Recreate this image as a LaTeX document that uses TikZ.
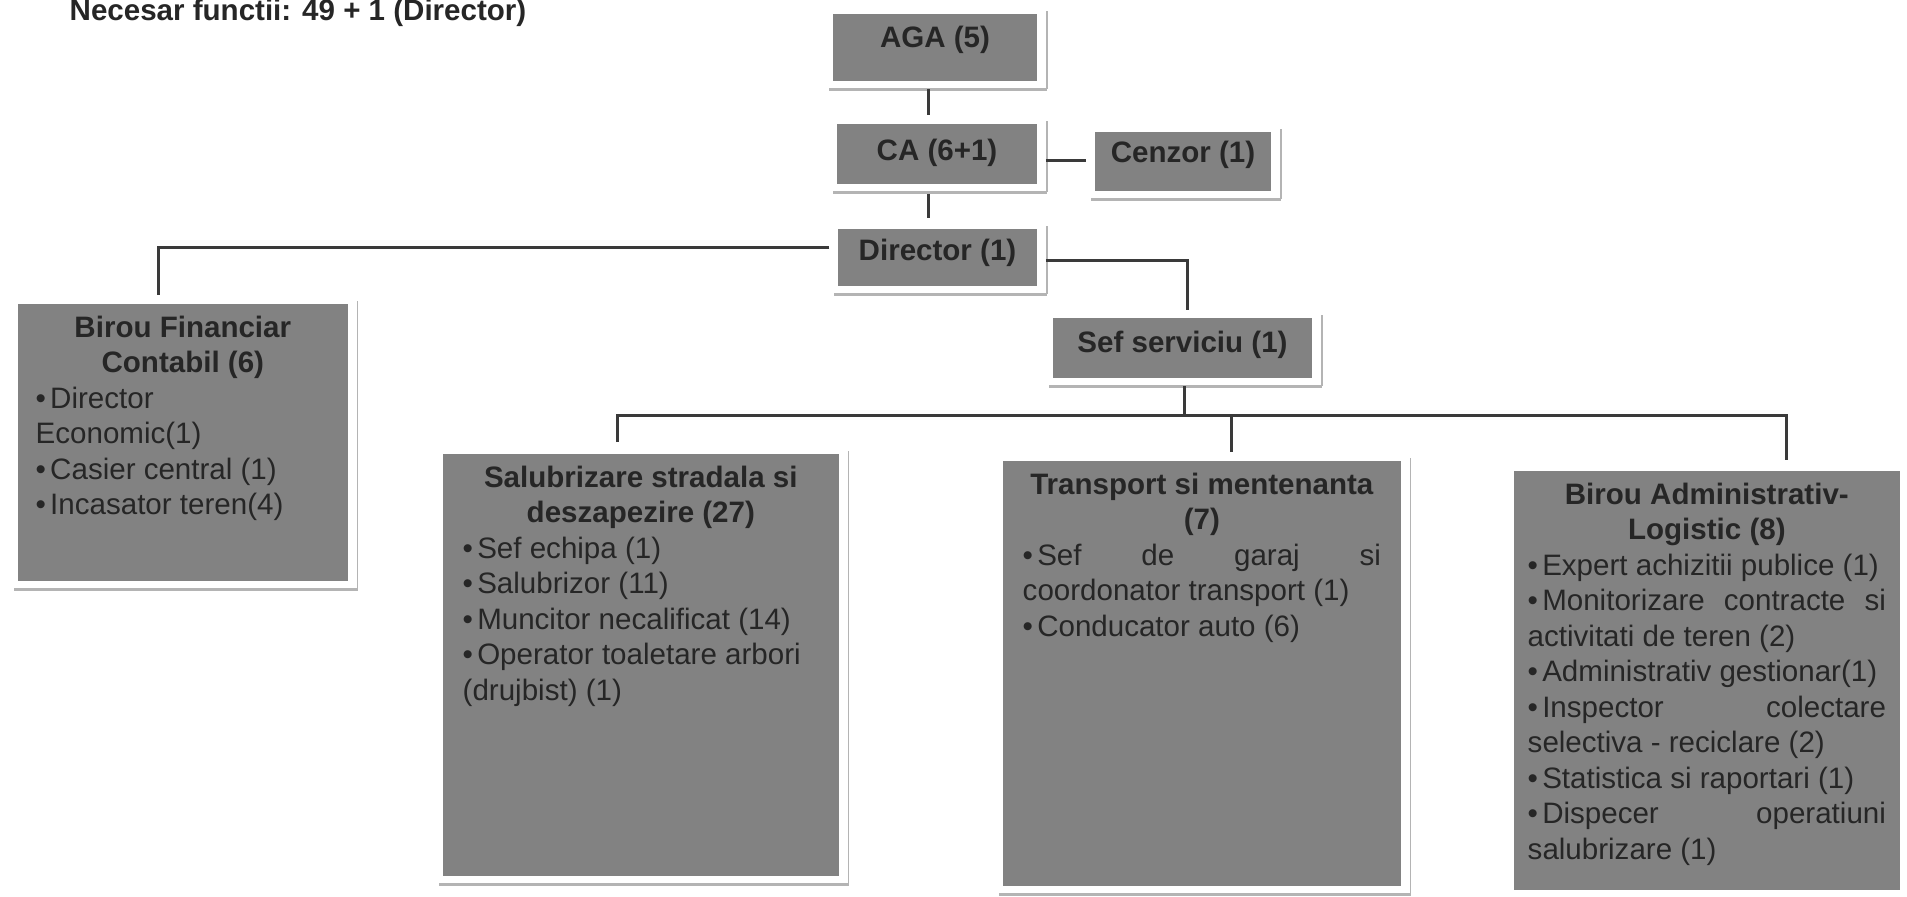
\documentclass[tikz,border=0pt]{standalone}
\usepackage{fontspec}
\setmainfont{Liberation Sans}
\usetikzlibrary{calc}

\definecolor{boxgray}{HTML}{828282}
\definecolor{textdark}{HTML}{262626}
\definecolor{linkgray}{HTML}{3A3A3A}
\definecolor{shadegray}{HTML}{B4B4B4}

\newcommand{\bul}{\par\noindent\textbullet\kern1.2pt}
\newcommand{\deptbody}[3]{\begin{minipage}[t][#2][t]{#1}\tolerance=10000\hbadness=10000 #3\end{minipage}}

\tikzset{
  headbox/.style={fill=boxgray, text=textdark, font=\fontsize{8.4}{10.1}\selectfont\bfseries,
    anchor=north, inner sep=0pt, text height=0.34cm, text depth=0.26cm},
  deptbox/.style={fill=boxgray, text=textdark, font=\fontsize{8.4}{10.1}\selectfont,
    anchor=north west, inner ysep=0.12cm},
  link/.style={draw=linkgray, line width=0.03cm},
  shade/.style={draw=shadegray, line width=0.035cm},
  shadeside/.style={draw=shadegray, line width=0.015cm}
}

\begin{document}
\begin{tikzpicture}[x=0.01cm, y=-0.01cm]
\useasboundingbox (0,0) rectangle (1907,896);

\node[anchor=base west, inner sep=0pt, text=textdark, font=\fontsize{8.4}{10}\selectfont\bfseries] (title) at (69,20) {Necesar functii: 49 + 1 (Director)};

% conducere
\node[headbox, minimum width=2.04cm, text depth=0.33cm] (aga) at (935,13) {AGA (5)};
\node[headbox, minimum width=2.00cm, text height=0.37cm, text depth=0.23cm] (ca) at (937,123) {CA (6+1)};
\node[headbox, minimum width=1.76cm, text height=0.31cm, text depth=0.28cm] (cenzor) at (1183,131) {Cenzor (1)};
\node[headbox, minimum width=1.99cm, text height=0.32cm, text depth=0.25cm] (dir) at (937.5,228) {Director (1)};
\node[headbox, minimum width=2.59cm, text height=0.35cm, text depth=0.25cm] (sef) at (1182.5,317) {Sef serviciu (1)};

% compartimente
\node[deptbox, inner xsep=0.18cm] (fin) at (17,303) {\deptbody{2.94cm}{2.53cm}{%
  {\centering\bfseries Birou Financiar\\ Contabil (6)\par}
  \bul Director\newline Economic(1)
  \bul Casier central (1)
  \bul Incasator teren(4)}};

\node[deptbox, inner xsep=0.20cm] (sal) at (442,453) {\deptbody{3.56cm}{3.98cm}{%
  {\centering\bfseries Salubrizare stradala si\\ deszapezire (27)\par}
  \bul Sef echipa (1)
  \bul Salubrizor (11)
  \bul Muncitor necalificat (14)
  \bul Operator toaletare arbori\newline (drujbist) (1)}};

\node[deptbox, inner xsep=0.20cm] (trp) at (1002,460) {\deptbody{3.58cm}{4.01cm}{%
  {\centering\bfseries Transport si mentenanta\\ (7)\par}
  \bul Sef de garaj si\linebreak coordonator transport (1)
  \bul Conducator auto (6)}};

\node[deptbox, inner xsep=0.14cm] (adm) at (1513,470) {\deptbody{3.58cm}{3.95cm}{%
  {\centering\bfseries Birou Administrativ-\\ Logistic (8)\par}
  \bul Expert achizitii publice (1)
  \bul Monitorizare contracte si\linebreak activitati de teren (2)
  \bul Administrativ gestionar(1)
  \bul Inspector colectare\linebreak selectiva - reciclare (2)
  \bul Statistica si raportari (1)
  \bul Dispecer operatiuni\linebreak salubrizare (1)}};

% umbre
\foreach \n in {aga,ca,cenzor,dir,sef,fin,sal,trp,adm}{
  \draw[shade] ($(\n.south west)+(-3,8)$) -- ($(\n.south east)+(9,8)$);
  \draw[shadeside] ($(\n.south east)+(9,8)$) -- ($(\n.north east)+(9,-2)$);
}

% legaturi
\draw[link] ($(aga.south)+(-7,8)$) -- ($(ca.north)+(-9,-8)$);
\draw[link] ($(ca.south)+(-9,10)$) -- ($(dir.north)+(-9.5,-10)$);
\draw[link] ($(ca.east |- cenzor.west)+(8,-1)$) -- ($(cenzor.west)+(-8,-1)$);
\draw[link] ($(dir.west)+(-8,-10)$) -| ($(fin.north west)+(141,-8)$);
\draw[link] ($(dir.east)+(8,3)$) -| ($(sef.north)+(4.5,-7)$);

\coordinate (bus) at ($(sef.south)+(1.5,37)$);
\coordinate (saltop) at ($(sal.north west)+(175,-11)$);
\coordinate (trptop) at ($(trp.north west)+(229,-8)$);
\coordinate (admtop) at ($(adm.north west)+(273,-10)$);

\draw[link] ($(sef.south)+(1.5,8)$) -- (bus);
\draw[link] (saltop) |- (bus) -| (admtop);
\draw[link] (bus -| trptop) -- (trptop);
\end{tikzpicture}
\end{document}
